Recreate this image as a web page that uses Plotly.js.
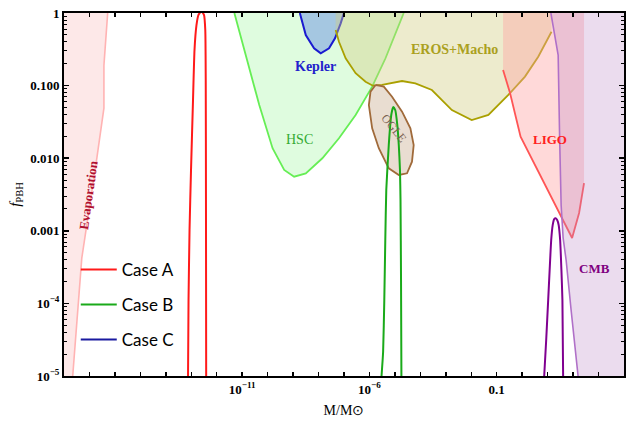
<!DOCTYPE html>
<html>
<head>
<meta charset="utf-8">
<script src="https://cdn.plot.ly/plotly-3.0.1.min.js"></script>
<style>html,body{margin:0;padding:0;background:#fff;}#chart{width:630px;height:421px;}</style>
</head>
<body>
<div id="chart"></div>
<script>
// ---- data (mass in solar masses, f_PBH) ----
const evapM = [5.2e-17, 3.7e-17, 3.7e-17, 1.95e-17, 5.0e-18, 2.2e-18];
const evapF = [1, 0.19, 0.049, 0.01, 4.2e-4, 1e-5];

const hscM = [4.93e-12, 1.42e-11, 4.69e-11, 1.56e-10, 4.47e-10, 1.10e-9, 3.15e-9, 1.41e-8, 6.34e-8, 2.86e-7, 1.28e-6, 4.27e-6, 1.05e-5, 2.22e-5];
const hscF = [1, 0.264, 0.054, 0.0137, 6.88e-3, 5.56e-3, 6.19e-3, 9.97e-3, 0.0188, 0.0394, 0.0966, 0.238, 0.525, 1];

const keplerM = [1.84e-9, 3.15e-9, 6.67e-9, 1.22e-8, 2.58e-8, 4.43e-8, 7.40e-8, 9.95e-8];
const keplerF = [1, 0.498, 0.327, 0.279, 0.327, 0.449, 0.721, 1];

const erosM = [4.71e-8, 6.34e-8, 1.16e-7, 2.86e-7, 7.03e-7, 1.36e-6, 3.14e-6, 7.73e-6, 1.91e-5, 6.37e-5, 2.84e-4, 1.73e-3, 0.0104, 0.0471, 0.286, 1.29, 4.27, 14.2];
const erosF = [0.583, 0.402, 0.238, 0.148, 0.113, 0.0997, 0.102, 0.1075, 0.1157, 0.1075, 0.0869, 0.0461, 0.0336, 0.0394, 0.0743, 0.133, 0.25, 0.552];

const ogleM = [1.73e-6, 1.10e-6, 9.48e-7, 1.28e-6, 2.33e-6, 5.74e-6, 1.42e-5, 2.99e-5, 4.69e-5, 5.47e-5, 4.06e-5, 1.91e-5, 7.73e-6, 3.66e-6, 1.73e-6];
const ogleF = [0.102, 0.0824, 0.054, 0.0258, 0.0137, 7.26e-3, 5.87e-3, 6.19e-3, 8.95e-3, 0.0152, 0.0258, 0.0437, 0.0703, 0.0966, 0.102];

const ligoM = [0.1775, 0.333, 0.865, 7.80, 91.4, 172, 269];
const ligoF = [0.164, 0.0791, 0.0198, 4.27e-3, 7.96e-4, 1.76e-3, 4.55e-3];

const cmbM = [13.4, 25.9, 29.6, 33.9, 40.6, 53.2, 83.5, 157];
const cmbF = [1, 0.264, 0.019, 2.27e-3, 7.96e-4, 3.96e-4, 8.1e-5, 1e-5];

const caseA_M = [7.46e-14, 7.8e-14, 8.55e-14, 9.77e-14, 1.17e-13, 1.34e-13, 1.60e-13, 1.92e-13, 2.52e-13, 3.16e-13, 3.55e-13, 3.70e-13, 3.78e-13, 3.85e-13];
const caseA_F = [1e-5, 1.11e-4, 1.03e-3, 6.9e-3, 0.063, 0.31, 0.68, 0.94, 1.06, 0.94, 0.583, 0.119, 2.65e-3, 1e-5];

const caseB_M = [2.98e-6, 3.44e-6, 3.83e-6, 4.19e-6, 4.58e-6, 5.74e-6, 7.19e-6, 8.61e-6, 1.03e-5, 1.24e-5, 1.42e-5, 1.58e-5, 1.66e-5, 1.74e-5, 1.80e-5];
const caseB_F = [1e-5, 2.14e-5, 1.11e-4, 7.46e-4, 3.65e-3, 0.0152, 0.0394, 0.0507, 0.0461, 0.0287, 0.0152, 6.9e-3, 2.65e-3, 2.1e-4, 1e-5];

const caseC_M = [7.33, 8.77, 10.5, 12.0, 13.8, 15.8, 18.1, 20.7, 23.7, 27.1, 31.0, 34.8, 38.1, 40.6];
const caseC_F = [1e-5, 3.13e-5, 1.11e-4, 2.88e-4, 7.46e-4, 1.2e-3, 1.45e-3, 1.49e-3, 1.41e-3, 1.2e-3, 7.46e-4, 2.88e-4, 1.11e-4, 1e-5];

const legendNames = ['Case A', 'Case B', 'Case C'];

const xTickVals = [1e-11, 1e-6, 0.1];
const xTickText = ['10<sup>−11</sup>', '10<sup>−6</sup>', '0.1'];
const yTickVals = [1, 0.1, 0.01, 0.001, 1e-4, 1e-5];
const yTickText = ['1', '0.100', '0.010', '0.001', '10<sup>−4</sup>', '10<sup>−5</sup>'];

// ---- helpers ----
const X_LO = 1e-19, X_HI = 1e5, Y_TOP = 2, Y_BOT = 1e-6;
function fillTrace(x, y, color) {
  return {x: x, y: y, type: 'scatter', mode: 'lines', fill: 'toself', fillcolor: color,
          line: {width: 0}, hoverinfo: 'skip', showlegend: false};
}
function lineTrace(x, y, color, w) {
  return {x: x, y: y, type: 'scatter', mode: 'lines', line: {color: color, width: w || 1.6},
          hoverinfo: 'skip', showlegend: false};
}

const traces = [];
traces.push(fillTrace(evapM.concat([X_LO, X_LO]), evapF.concat([Y_BOT, Y_TOP]), 'rgba(250,190,190,0.35)'));
traces.push(lineTrace(evapM, evapF, '#ffb3b3', 1.6));
traces.push(fillTrace([hscM[0]].concat(hscM, [hscM[hscM.length-1]]), [Y_TOP].concat(hscF, [Y_TOP]), 'rgba(150,245,150,0.3)'));
traces.push(lineTrace(hscM, hscF, '#66ee55', 1.8));
traces.push(fillTrace([keplerM[0]].concat(keplerM, [keplerM[keplerM.length-1]]), [Y_TOP].concat(keplerF, [Y_TOP]), 'rgba(150,185,225,0.8)'));
traces.push(lineTrace(keplerM, keplerF, '#1a1ad0', 2));
traces.push(fillTrace([erosM[0]].concat(erosM, [erosM[erosM.length-1]]), [Y_TOP].concat(erosF, [Y_TOP]), 'rgba(210,205,130,0.4)'));
traces.push(lineTrace(erosM, erosF, '#aaa000', 1.8));
traces.push(fillTrace(ogleM, ogleF, 'rgba(200,170,140,0.4)'));
traces.push(lineTrace(ogleM, ogleF, '#a06a3a', 1.8));
traces.push(fillTrace([ligoM[0]].concat(ligoM, [ligoM[ligoM.length-1]]), [Y_TOP].concat(ligoF, [Y_TOP]), 'rgba(255,160,160,0.4)'));
traces.push(lineTrace(ligoM, ligoF, '#ff5555', 1.8));
traces.push(fillTrace(cmbM.concat([X_HI, X_HI]), cmbF.concat([Y_BOT, Y_TOP]), 'rgba(190,140,200,0.3)'));
traces.push(lineTrace(cmbM, cmbF, '#b070c8', 1.6));

traces.push({x: caseA_M, y: caseA_F, type: 'scatter', mode: 'lines', name: legendNames[0], legendgroup: 'a',
             line: {color: '#ff1a1a', width: 2, shape: 'spline', smoothing: 0.5}, hoverinfo: 'skip'});
traces.push({x: caseB_M, y: caseB_F, type: 'scatter', mode: 'lines', name: legendNames[1], legendgroup: 'b',
             line: {color: '#1aaa1a', width: 2, shape: 'spline', smoothing: 0.5}, hoverinfo: 'skip'});
traces.push({x: caseC_M, y: caseC_F, type: 'scatter', mode: 'lines', showlegend: false,
             line: {color: '#800090', width: 2, shape: 'spline', smoothing: 0.5}, hoverinfo: 'skip'});
traces.push({x: [null], y: [null], type: 'scatter', mode: 'lines', name: legendNames[2], legendgroup: 'c',
             line: {color: '#1a1aa0', width: 2}, hoverinfo: 'skip'});

const serif = 'Liberation Serif';
function ann(lx, ly, text, color, size, bold, angle) {
  return {x: lx, y: ly, xref: 'x', yref: 'y', text: text, showarrow: false,
          textangle: angle || 0,
          font: {family: serif, size: size, color: color, weight: bold ? 'bold' : 'normal'}};
}

const layout = {
  width: 630, height: 421,
  margin: {l: 64, r: 6, t: 13, b: 45},
  paper_bgcolor: '#ffffff', plot_bgcolor: '#ffffff',
  showlegend: true,
  legend: {x: 0.021, y: 0.342, xanchor: 'left', yanchor: 'top', bgcolor: 'rgba(0,0,0,0)',
           font: {family: 'Lato', size: 17, color: '#000'}, tracegroupgap: 10, traceorder: 'grouped',
           itemwidth: 36},
  xaxis: {
    type: 'log', range: [-18, 4], showgrid: false, zeroline: false,
    tickmode: 'array', tickvals: xTickVals, ticktext: xTickText,
    ticks: 'inside', ticklen: 4, tickwidth: 1.5, tickcolor: '#000',
    minor: {ticks: 'inside', ticklen: 4, tickwidth: 1.5, tickcolor: '#000', dtick: 1, showgrid: false},
    showline: true, linewidth: 2, linecolor: '#000', mirror: 'allticks',
    tickfont: {family: serif, size: 13, color: '#000', weight: 'bold'},
    title: {text: 'M/M⊙', font: {family: serif, size: 14, color: '#000'}, standoff: 10}
  },
  yaxis: {
    type: 'log', range: [-5, 0], showgrid: false, zeroline: false,
    tickmode: 'array', tickvals: yTickVals, ticktext: yTickText,
    ticks: 'inside', ticklen: 5, tickwidth: 1.5, tickcolor: '#000',
    minor: {ticks: 'inside', ticklen: 3, tickwidth: 1, tickcolor: '#000', dtick: 'D1', showgrid: false},
    showline: true, linewidth: 2, linecolor: '#000', mirror: 'allticks',
    tickfont: {family: serif, size: 13, color: '#000', weight: 'bold'},
    title: {text: '<i>f</i><sub>PBH</sub>', font: {family: serif, size: 15, color: '#000'}, standoff: 6}
  },
  annotations: [
    ann(-17.06, -2.507, 'Evaporation', '#b01030', 13, true, -82),
    ann(-8.11, -0.74, 'Kepler', '#2222cc', 14, true),
    ann(-8.76, -1.749, 'HSC', '#33aa33', 14, false),
    ann(-2.657, -0.496, 'EROS+Macho', '#aaa020', 14, true),
    ann(-5.045, -1.584, 'OGLE', '#7a6050', 12, false, 51),
    ann(1.088, -1.749, 'LIGO', '#ff2020', 13, true),
    ann(2.849, -3.517, 'CMB', '#800080', 13, true)
  ]
};

Plotly.newPlot('chart', traces, layout, {staticPlot: true, displayModeBar: false});
</script>
</body>
</html>
